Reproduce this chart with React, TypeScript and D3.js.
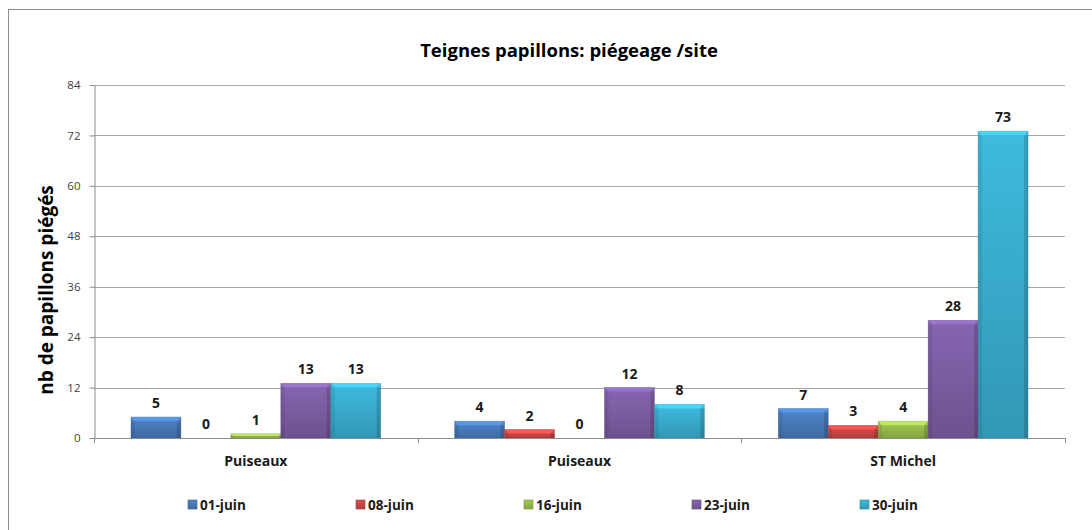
import React, { useEffect, useRef } from 'react';
import * as d3 from 'd3';

const sites = ['Puiseaux', 'Puiseaux', 'ST Michel'];
const dates = ['01-juin', '08-juin', '16-juin', '23-juin', '30-juin'];
const juin01 = [5, 4, 7];
const juin08 = [0, 2, 3];
const juin16 = [1, 0, 4];
const juin23 = [13, 12, 28];
const juin30 = [13, 8, 73];
const yTicks = [0, 12, 24, 36, 48, 60, 72, 84];

const seriesValues = [juin01, juin08, juin16, juin23, juin30];
const colors = ['#4a7ebf', '#d04a47', '#9bc04f', '#8060a8', '#3bb1d3'];

const App = () => {
  const ref = useRef<SVGSVGElement>(null);

  useEffect(() => {
    const width = 1092;
    const height = 530;
    const margin = { top: 85, right: 27, bottom: 92, left: 94 };
    const innerW = width - margin.left - margin.right;
    const innerH = height - margin.top - margin.bottom;
    const font = '"Open Sans", "Noto Sans", sans-serif';

    const svg = d3.select(ref.current);
    svg.selectAll('*').remove();

    // gradients for the bevelled bars
    const defs = svg.append('defs');
    colors.forEach((c, i) => {
      const g = defs.append('linearGradient')
        .attr('id', `grad-${i}`)
        .attr('x1', 0).attr('y1', 0).attr('x2', 0).attr('y2', 1);
      g.append('stop').attr('offset', '0%').attr('stop-color', d3.color(c)!.brighter(0.15).toString());
      g.append('stop').attr('offset', '100%').attr('stop-color', d3.color(c)!.darker(0.45).toString());
    });

    // outer frame (right and bottom edges fall outside the picture)
    svg.append('rect')
      .attr('x', 8.5).attr('y', 9.5)
      .attr('width', width + 20).attr('height', height + 20)
      .attr('fill', 'white')
      .attr('stroke', '#8c8c8c');

    svg.append('text')
      .attr('x', 569).attr('y', 57)
      .attr('text-anchor', 'middle')
      .attr('font-family', font).attr('font-weight', 'bold').attr('font-size', 18.5)
      .text('Teignes papillons: piégeage /site');

    svg.append('text')
      .attr('transform', `translate(53, 290) rotate(-90)`)
      .attr('text-anchor', 'middle')
      .attr('font-family', font).attr('font-weight', 'bold').attr('font-size', 19)
      .text('nb de papillons piégés');

    const g = svg.append('g').attr('transform', `translate(${margin.left},${margin.top})`);

    const x0 = d3.scaleBand<number>()
      .domain(sites.map((_, i) => i))
      .range([0, innerW]);

    const x1 = d3.scaleBand<number>()
      .domain(dates.map((_, i) => i))
      .range([0, x0.bandwidth()])
      .paddingOuter(0.74);

    const y = d3.scaleLinear().domain([0, 84]).range([innerH, 0]);

    // gridlines
    g.selectAll('.grid')
      .data(yTicks.filter(t => t > 0))
      .enter().append('line')
      .attr('x1', 0).attr('x2', innerW)
      .attr('y1', d => Math.round(y(d)) + 0.5).attr('y2', d => Math.round(y(d)) + 0.5)
      .attr('stroke', '#a6a6a6');

    // y axis
    const yAxis = g.append('g')
      .attr('transform', 'translate(0.5,0)')
      .call(d3.axisLeft(y).tickValues(yTicks).tickSize(5).tickSizeOuter(0));
    yAxis.select('.domain').attr('stroke', '#8c8c8c');
    yAxis.selectAll('.tick line').attr('stroke', '#8c8c8c');
    yAxis.selectAll('.tick text')
      .attr('font-family', font).attr('font-size', 11.5).attr('fill', '#404040').attr('x', -14);

    // bars
    seriesValues.forEach((vals, s) => {
      const bw = x1.bandwidth();
      const grp = g.append('g');
      vals.forEach((v, c) => {
        const bx = x0(c)! + x1(s)!;
        const by = y(v);
        const bh = innerH - by;
        if (bh > 0) {
          grp.append('rect')
            .attr('x', bx).attr('y', by)
            .attr('width', bw).attr('height', bh)
            .attr('fill', `url(#grad-${s})`)
            .attr('stroke', d3.color(colors[s])!.darker(0.8).toString())
            .attr('stroke-opacity', 0.5)
            .attr('stroke-width', 0.7);
          // bevel highlight on top edge
          const bev = Math.min(4, bh / 2);
          grp.append('path')
            .attr('d', `M${bx},${by} L${bx + bw},${by} L${bx + bw - bev},${by + bev} L${bx + bev},${by + bev} Z`)
            .attr('fill', d3.color(colors[s])!.brighter(0.6).toString())
            .attr('opacity', 0.85);
          // side shading
          grp.append('rect')
            .attr('x', bx).attr('y', by + bev)
            .attr('width', bev).attr('height', Math.max(0, bh - bev))
            .attr('fill', 'black').attr('opacity', 0.08);
          grp.append('rect')
            .attr('x', bx + bw - bev).attr('y', by + bev)
            .attr('width', bev).attr('height', Math.max(0, bh - bev))
            .attr('fill', 'black').attr('opacity', 0.15);
        }
        grp.append('text')
          .attr('x', bx + bw / 2).attr('y', by - 9)
          .attr('text-anchor', 'middle')
          .attr('font-family', font).attr('font-weight', 'bold').attr('font-size', 14)
          .attr('fill', '#1a1a1a')
          .text(v);
      });
    });

    // x axis
    g.append('line')
      .attr('x1', 0).attr('x2', innerW)
      .attr('y1', innerH + 0.5).attr('y2', innerH + 0.5)
      .attr('stroke', '#8c8c8c');
    d3.range(sites.length + 1).forEach(i => {
      const tx = Math.round(i * x0.step()) + 0.5;
      g.append('line')
        .attr('x1', tx).attr('x2', tx)
        .attr('y1', innerH).attr('y2', innerH + 5)
        .attr('stroke', '#8c8c8c');
    });
    g.selectAll('.cat')
      .data(sites)
      .enter().append('text')
      .attr('x', (_, i) => x0(i)! + x0.bandwidth() / 2)
      .attr('y', innerH + 28)
      .attr('text-anchor', 'middle')
      .attr('font-family', font).attr('font-weight', 'bold').attr('font-size', 14)
      .attr('fill', '#1a1a1a')
      .text(d => d);

    // legend
    const legend = svg.append('g').attr('transform', 'translate(188, 505)');
    dates.forEach((d, i) => {
      const item = legend.append('g').attr('transform', `translate(${i * 168}, 0)`);
      item.append('rect')
        .attr('x', 0).attr('y', -5)
        .attr('width', 9).attr('height', 9)
        .attr('fill', `url(#grad-${i})`)
        .attr('stroke', d3.color(colors[i])!.darker(0.8).toString())
        .attr('stroke-width', 0.6);
      item.append('text')
        .attr('x', 12).attr('y', 4.5)
        .attr('font-family', font).attr('font-weight', 'bold').attr('font-size', 13.5)
        .attr('fill', '#1a1a1a')
        .text(d);
    });
  }, []);

  return (
    <svg ref={ref} width={1092} height={530} style={{ display: 'block', position: 'absolute', left: 0, top: 0 }} />
  );
};

export default App;
